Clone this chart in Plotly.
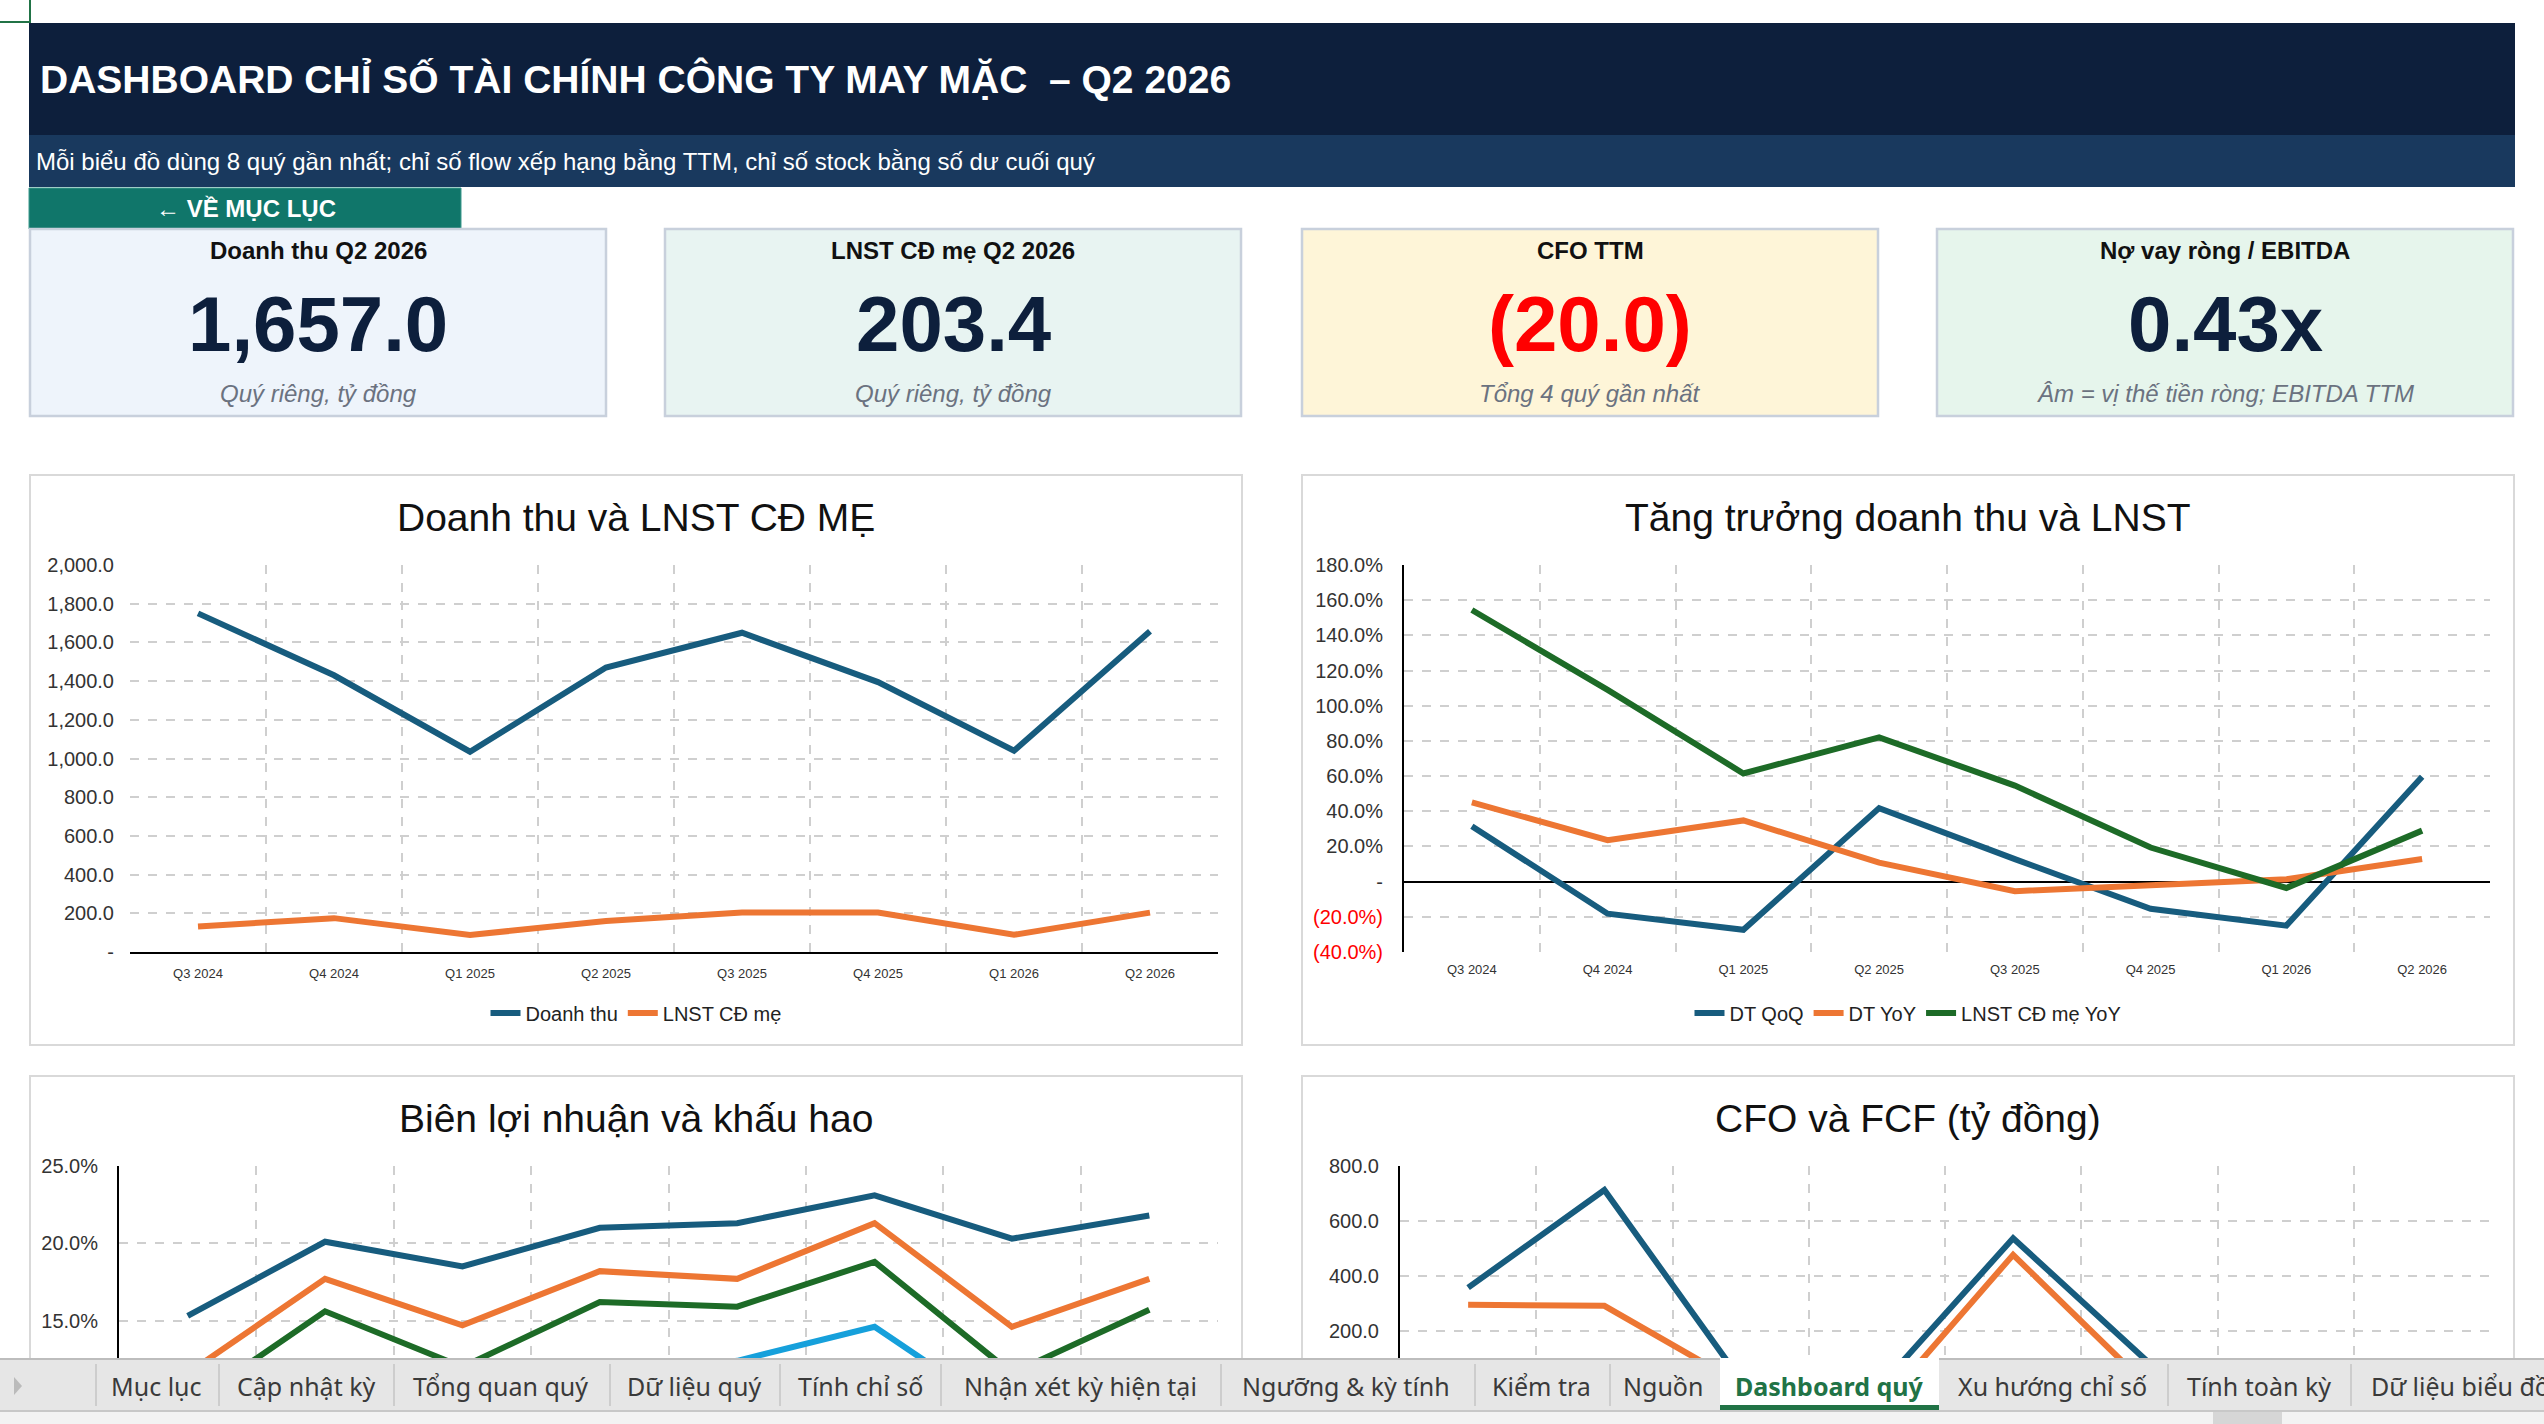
import plotly.graph_objects as go

W, H = 2544, 1424

# ---- data ----
quarters = ["Q3 2024", "Q4 2024", "Q1 2025", "Q2 2025", "Q3 2025", "Q4 2025", "Q1 2026", "Q2 2026"]

doanh_thu = [1750, 1430, 1035, 1470, 1650, 1395, 1040, 1657.0]
lnst_cd_me = [132, 175, 88, 160, 204, 204, 89, 203.4]

dt_qoq = [31.5, -18.2, -27.4, 41.8, 12.8, -15.4, -25.0, 59.6]
dt_yoy = [45.0, 23.6, 34.8, 10.8, -5.4, -2.4, 1.4, 12.9]
lnst_yoy = [154.4, 109.0, 61.5, 82.0, 54.6, 19.4, -3.6, 29.0]

bien_gop = [15.3, 20.1, 18.5, 21.0, 21.3, 23.1, 20.3, 21.8]
bien_ebitda = [11.6, 17.7, 14.7, 18.2, 17.7, 21.3, 14.6, 17.7]
bien_ebit = [9.5, 15.6, 12.0, 16.2, 15.9, 18.8, 11.6, 15.7]
bien_lnst = [7.5, 12.2, 8.4, 11.0, 12.4, 14.6, 8.6, 12.3]

cfo = [359, 713, 25, -12, 538, 85, -400, -243]
fcf = [297, 293, 10, -90, 478, -4, -450, -300]

no_vay_rong_ebitda = 0.43

sheet_tabs = ["Mục lục", "Cập nhật kỳ", "Tổng quan quý", "Dữ liệu quý", "Tính chỉ số",
              "Nhận xét kỳ hiện tại", "Ngưỡng & kỳ tính", "Kiểm tra", "Nguồn",
              "Dashboard quý", "Xu hướng chỉ số", "Tính toàn kỳ", "Dữ liệu biểu đồ"]
active_tab = "Dashboard quý"

NAVY = "#0D1F3C"
BLUE = "#175C7E"
ORANGE = "#ED7633"
GREEN = "#1D6B27"
LIGHTBLUE = "#16A0DB"
FONT = "Liberation Sans"
LW = 6


def acct(v, pct=False, red=False):
    if v == 0:
        return "-"
    s = f"{abs(v):,.1f}" + ("%" if pct else "")
    if v < 0:
        s = f"({s})"
        if red:
            s = f'<span style="color:#FF0000">{s}</span>'
    return s


def px(x):
    return x / W


def py(y):
    return 1 - y / H


def rect(x0, y0, x1, y1, fill, line=None, lw=0, layer="below"):
    return dict(type="rect", xref="paper", yref="paper", layer=layer,
                x0=px(x0), x1=px(x1), y0=py(y1), y1=py(y0),
                fillcolor=fill, line=dict(color=line or fill, width=lw))


def text(x, y, s, size, color="#111111", bold=False, italic=False, family=FONT, xanchor="center"):
    if bold:
        s = f"<b>{s}</b>"
    if italic:
        s = f"<i>{s}</i>"
    return dict(x=px(x), y=py(y), xref="paper", yref="paper", text=s, showarrow=False,
                xanchor=xanchor, yanchor="middle", font=dict(size=size, color=color, family=family))


fig = go.Figure()

# chart 1
fig.add_trace(go.Scatter(x=quarters, y=doanh_thu, name="Doanh thu", mode="lines",
                         line=dict(color=BLUE, width=LW), xaxis="x", yaxis="y", legend="legend"))
fig.add_trace(go.Scatter(x=quarters, y=lnst_cd_me, name="LNST CĐ mẹ", mode="lines",
                         line=dict(color=ORANGE, width=LW), xaxis="x", yaxis="y", legend="legend"))
# chart 2
for name, vals, col in [("DT QoQ", dt_qoq, BLUE), ("DT YoY", dt_yoy, ORANGE), ("LNST CĐ mẹ YoY", lnst_yoy, GREEN)]:
    fig.add_trace(go.Scatter(x=quarters, y=vals, name=name, mode="lines",
                             line=dict(color=col, width=LW), xaxis="x2", yaxis="y2", legend="legend2"))
# chart 3
for name, vals, col in [("Biên gộp", bien_gop, BLUE), ("Biên EBITDA", bien_ebitda, ORANGE),
                        ("Biên EBIT", bien_ebit, GREEN), ("Biên LNST", bien_lnst, LIGHTBLUE)]:
    fig.add_trace(go.Scatter(x=quarters, y=vals, name=name, mode="lines", showlegend=False,
                             line=dict(color=col, width=LW), xaxis="x3", yaxis="y3"))
# chart 4
for name, vals, col in [("CFO", cfo, BLUE), ("FCF", fcf, ORANGE)]:
    fig.add_trace(go.Scatter(x=quarters, y=vals, name=name, mode="lines", showlegend=False,
                             line=dict(color=col, width=LW), xaxis="x4", yaxis="y4"))

grid = dict(showgrid=True, gridcolor="#CFCFCF", gridwidth=1.5, griddash="dash", automargin=False)
tickf = dict(size=20, color="#333333", family=FONT)


def xax(x0, x1, anchor, showline, labels=True):
    return dict(domain=[px(x0), px(x1)], anchor=anchor, type="category", tickson="boundaries",
                range=[-0.5, len(quarters) - 0.5],
                ticks="", showticklabels=labels, tickfont=dict(size=13, color="#333333", family=FONT),
                ticklabelstandoff=8, showline=showline, linecolor="#000000", linewidth=2,
                zeroline=False, fixedrange=True, **grid)


def yax(y0, y1, anchor, rng, vals, labels, showline, zeroline):
    return dict(domain=[py(y1), py(y0)], anchor=anchor, range=rng, tickvals=vals, ticktext=labels,
                ticks="", tickfont=tickf, ticklabelstandoff=15, showline=showline,
                linecolor="#000000", linewidth=2, zeroline=zeroline, zerolinecolor="#000000",
                zerolinewidth=2, fixedrange=True, **grid)


y1_vals = list(range(0, 2001, 200))
y2_vals = list(range(-40, 181, 20))
y3_vals = list(range(15, 26, 5))      # lower ticks sit under the sheet-tab bar
y4_vals = list(range(200, 801, 200))

# plot-area geometry (pixels)
c3_top, c3_px_per_pct = 1166, 15.46
c4_top, c4_px_per_unit = 1166, 0.2758
y3_low = 25 - (H - c3_top) / c3_px_per_pct
y4_low = 800 - (H - c4_top) / c4_px_per_unit

fig.update_layout(
    xaxis=xax(130, 1218, "y", True),
    yaxis=yax(565, 952, "x", [0, 2000], y1_vals, [acct(v) for v in y1_vals], False, False),
    xaxis2=xax(1404, 2490, "y2", False),
    yaxis2=yax(565, 952, "x2", [-40, 180], y2_vals, [acct(v, True, True) for v in y2_vals], True, True),
    xaxis3=xax(119, 1218, "y3", False, labels=False),
    yaxis3=yax(c3_top, H, "x3", [y3_low, 25], y3_vals, [acct(v, True) for v in y3_vals], True, False),
    xaxis4=xax(1400, 2490, "y4", False, labels=False),
    yaxis4=yax(c4_top, H, "x4", [y4_low, 800], y4_vals, [acct(v) for v in y4_vals], True, True),
)

legend_style = dict(orientation="h", xanchor="center", yanchor="middle", bgcolor="rgba(0,0,0,0)",
                    font=dict(size=20, color="#222222", family=FONT), itemwidth=30, tracegroupgap=0)
fig.update_layout(
    legend=dict(x=px(636), y=py(1013), **legend_style),
    legend2=dict(x=px(1908), y=py(1013), **legend_style),
)

shapes = []
annotations = []

# header
shapes.append(rect(29, 23, 2515, 135, NAVY))
shapes.append(rect(29, 135, 2515, 187, "#19395E"))
annotations.append(text(38, 79, "DASHBOARD CHỈ SỐ TÀI CHÍNH CÔNG TY MAY MẶC \u00a0– Q2 2026", 39,
                        "#FFFFFF", bold=True, xanchor="left"))
annotations.append(text(34, 161, "Mỗi biểu đồ dùng 8 quý gần nhất; chỉ số flow xếp hạng bằng TTM, "
                        "chỉ số stock bằng số dư cuối quý", 24, "#FFFFFF", xanchor="left"))
# selected-cell marker
shapes.append(dict(type="line", xref="paper", yref="paper", x0=px(30), x1=px(30), y0=py(0), y1=py(23),
                   line=dict(color="#217346", width=2)))
shapes.append(dict(type="line", xref="paper", yref="paper", x0=px(0), x1=px(30), y0=py(22), y1=py(22),
                   line=dict(color="#217346", width=2)))

# button
shapes.append(rect(29, 188, 461, 229, "#10766A", "#3C9A8D", 1))
annotations.append(text(246, 208, "← VỀ MỤC LỤC", 24, "#FFFFFF", bold=True))

# KPI cards
cfo_ttm = sum(cfo[-4:])
kpi_titles = ["Doanh thu Q2 2026", "LNST CĐ mẹ Q2 2026", "CFO TTM", "Nợ vay ròng / EBITDA"]
kpi_values = [acct(doanh_thu[-1]), acct(lnst_cd_me[-1]), acct(cfo_ttm), f"{no_vay_rong_ebitda:.2f}x"]
kpi_notes = ["Quý riêng, tỷ đồng", "Quý riêng, tỷ đồng", "Tổng 4 quý gần nhất",
             "Âm = vị thế tiền ròng; EBITDA TTM"]
card_fills = ["#EEF4FB", "#E8F4F2", "#FEF5D8", "#E6F5EC"]
card_x = [(30, 606), (665, 1241), (1302, 1878), (1937, 2513)]
for i, (x0, x1) in enumerate(card_x):
    shapes.append(rect(x0, 229, x1, 416, card_fills[i], "#C8D0DC", 2.5))
    cx = (x0 + x1) / 2
    annotations.append(text(cx, 251, kpi_titles[i], 24, "#111111", bold=True))
    vcol = "#FF0000" if kpi_values[i].startswith("(") else NAVY
    annotations.append(text(cx, 324, kpi_values[i], 78, vcol, bold=True))
    annotations.append(text(cx, 393, kpi_notes[i], 24, "#6B7280", italic=True))

# chart panels + titles
panel_titles = ["Doanh thu và LNST CĐ MẸ", "Tăng trưởng doanh thu và LNST",
                "Biên lợi nhuận và khấu hao", "CFO và FCF (tỷ đồng)"]
panels = [(30, 475, 1242, 1045), (1302, 475, 2514, 1045), (30, 1076, 1242, 1500), (1302, 1076, 2514, 1500)]
title_y = [517, 517, 1118, 1118]
for (x0, y0, x1, y1), t, ty in zip(panels, panel_titles, title_y):
    shapes.append(rect(x0, y0, x1, y1, "#FFFFFF", "#D9D9D9", 2))
    annotations.append(text((x0 + x1) / 2, ty, t, 39, "#111111"))

# sheet tab bar
shapes.append(rect(0, 1359, W, 1411, "#E6E6E6", layer="above"))
shapes.append(dict(type="line", xref="paper", yref="paper", layer="above", x0=0, x1=1,
                   y0=py(1359), y1=py(1359), line=dict(color="#BDBDBD", width=2)))
shapes.append(rect(0, 1411, W, H, "#F3F3F3", layer="above"))
shapes.append(dict(type="line", xref="paper", yref="paper", layer="above", x0=0, x1=1,
                   y0=py(1411), y1=py(1411), line=dict(color="#C8C8C8", width=2)))
shapes.append(rect(2213, 1412, 2282, H, "#D6D6D6", layer="above"))
shapes.append(dict(type="path", xref="paper", yref="paper", layer="above",
                   path=f"M {px(14)} {py(1377)} L {px(22)} {py(1386)} L {px(14)} {py(1395)} Z",
                   fillcolor="#BBBBBB", line=dict(width=0)))
shapes.append(rect(1720, 1358, 1939, 1409, "#FFFFFF", layer="above"))
shapes.append(rect(1720, 1405, 1939, 1410, "#217346", layer="above"))

separators = [96, 219, 394, 610, 780, 941, 1221, 1475, 1610, 2168, 2351]
for sx in separators:
    shapes.append(dict(type="line", xref="paper", yref="paper", layer="above", x0=px(sx), x1=px(sx),
                       y0=py(1364), y1=py(1406), line=dict(color="#C4C4C4", width=1.5)))

tab_centers = [156, 306, 500, 694, 860, 1080, 1346, 1541, 1663, 1829, 2052, 2259, 2369]
for name, cx in zip(sheet_tabs, tab_centers):
    is_active = name == active_tab
    anchor = "left" if name == sheet_tabs[-1] else "center"
    annotations.append(text(cx, 1386, name, 25, "#217346" if is_active else "#3A3A3A",
                            bold=is_active, family="Noto Sans", xanchor=anchor))

fig.update_layout(
    width=W, height=H, autosize=False,
    margin=dict(l=0, r=0, t=0, b=0, pad=0, autoexpand=False),
    paper_bgcolor="#FFFFFF", plot_bgcolor="#FFFFFF",
    font=dict(family=FONT),
    shapes=shapes, annotations=annotations,
)

fig.write_html("out.html", config={"displayModeBar": False},
               post_script="document.body.style.margin='0';document.body.style.overflow='hidden';")
